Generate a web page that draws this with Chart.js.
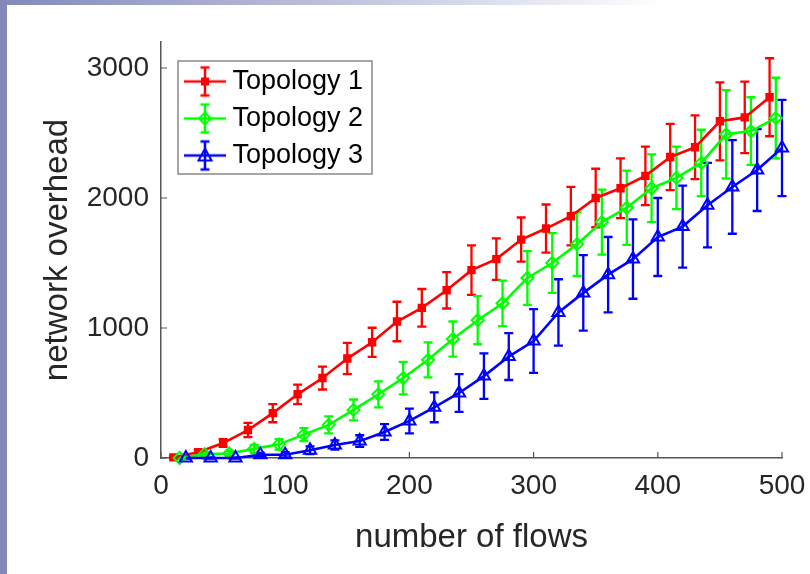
<!DOCTYPE html>
<html>
<head>
<meta charset="utf-8">
<title>network overhead vs number of flows</title>
<script src="https://cdn.jsdelivr.net/npm/chart.js@4.4.1/dist/chart.umd.min.js"></script>
<style>
  html, body { margin: 0; padding: 0; background: #fff; }
  #wrap { position: relative; width: 810px; height: 574px; overflow: hidden; }
  #chart { position: absolute; left: 0; top: 0; }
  /* slide decoration */
  #sideBar { position: absolute; left: 0; top: 0; width: 7px; height: 574px; background: #8289ba; }
  #topBar { position: absolute; left: 0; top: 0; width: 810px; height: 5px;
            background: linear-gradient(to right, #8289ba 0%, #c3c7df 45%, #ffffff 82%); }
</style>
</head>
<body>
<div id="wrap">
  <canvas id="chart" width="810" height="574"></canvas>
  <div id="sideBar"></div>
  <div id="topBar"></div>
</div>
<script>
/* ------------------------------
   Data
   ------------------------------ */
const seriesNames = ['Topology 1', 'Topology 2', 'Topology 3'];

const flowsT1 = [10, 30, 50, 70, 90, 110, 130, 150, 170, 190, 210, 230, 250, 270, 290, 310, 330, 350, 370, 390, 410, 430, 450, 470, 490];
const flowsT2 = [15, 35, 55, 75, 95, 115, 135, 155, 175, 195, 215, 235, 255, 275, 295, 315, 335, 355, 375, 395, 415, 435, 455, 475, 495];
const flowsT3 = [20, 40, 60, 80, 100, 120, 140, 160, 180, 200, 220, 240, 260, 280, 300, 320, 340, 360, 380, 400, 420, 440, 460, 480, 500];

const overheadT1 = [5, 45, 115, 215, 345, 490, 615, 765, 890, 1050, 1155, 1290, 1445, 1530, 1680, 1765, 1860, 2000, 2075, 2170, 2315, 2390, 2590, 2620, 2775];
const overheadT2 = [0, 30, 35, 70, 105, 180, 255, 370, 490, 615, 755, 915, 1060, 1190, 1385, 1500, 1645, 1815, 1925, 2075, 2155, 2270, 2490, 2515, 2615];
const overheadT3 = [0, 0, 0, 25, 25, 60, 100, 130, 200, 285, 390, 500, 630, 780, 900, 1120, 1270, 1410, 1530, 1700, 1780, 1945, 2085, 2215, 2385];

const errT1 = [10, 20, 30, 55, 70, 75, 88, 120, 112, 152, 145, 140, 190, 160, 170, 185, 225, 225, 230, 225, 255, 245, 300, 275, 300];
const errT2 = [10, 15, 20, 30, 40, 50, 65, 80, 100, 125, 135, 135, 185, 175, 207, 230, 245, 250, 285, 260, 240, 255, 340, 260, 310];
const errT3 = [5, 5, 5, 15, 20, 30, 35, 45, 60, 95, 115, 145, 175, 180, 245, 255, 290, 290, 305, 300, 315, 325, 360, 315, 370];

const xTicks = [0, 100, 200, 300, 400, 500];
const yTicks = [0, 1000, 2000, 3000];

const colors = ['#ff0000', '#00ff00', '#0000ff'];
const FONT = "'Liberation Sans', Arial, Helvetica, sans-serif";
const AXIS_COLOR = '#555555';

function toPoints(xs, ys) {
    return xs.map((x, i) => ({ x: x, y: ys[i] }));
}

// ------------------------------
// Legend icons (line + error bar + marker, MATLAB style)
// ------------------------------
function makeLegendIcon(color, marker) {
    const c = document.createElement('canvas');
    c.width = 56; c.height = 34;
    const g = c.getContext('2d');
    const cx = 34, cy = 17;
    g.strokeStyle = color;
    g.fillStyle = color;
    g.lineWidth = 2.5;
    g.beginPath();
    g.moveTo(13, cy); g.lineTo(55, cy);
    g.moveTo(cx, 3); g.lineTo(cx, 31);
    g.moveTo(cx - 4.5, 3); g.lineTo(cx + 4.5, 3);
    g.moveTo(cx - 4.5, 31); g.lineTo(cx + 4.5, 31);
    g.stroke();
    g.lineWidth = 2;
    g.beginPath();
    if (marker === 'rect') {
        g.fillRect(cx - 4, cy - 4, 8, 8);
    } else if (marker === 'diamond') {
        g.moveTo(cx, cy - 6); g.lineTo(cx + 6, cy); g.lineTo(cx, cy + 6); g.lineTo(cx - 6, cy); g.closePath();
        g.stroke();
    } else {
        g.moveTo(cx, cy - 7); g.lineTo(cx + 6.5, cy + 5); g.lineTo(cx - 6.5, cy + 5); g.closePath();
        g.stroke();
    }
    return c;
}
const legendIcons = [
    makeLegendIcon(colors[0], 'rect'),
    makeLegendIcon(colors[1], 'diamond'),
    makeLegendIcon(colors[2], 'triangle')
];

// ------------------------------
// Plugins
// ------------------------------
const errorBarPlugin = {
    id: 'errorBars',
    beforeDatasetsDraw(chart) {
        const ctx = chart.ctx;
        const yScale = chart.scales.y;
        chart.data.datasets.forEach((ds, i) => {
            const meta = chart.getDatasetMeta(i);
            if (!ds.errors || meta.hidden) return;
            ctx.save();
            ctx.strokeStyle = ds.borderColor;
            ctx.lineWidth = 2.3;
            ctx.beginPath();
            meta.data.forEach((pt, j) => {
                const v = ds.data[j].y, e = ds.errors[j];
                const top = yScale.getPixelForValue(v + e);
                const bot = yScale.getPixelForValue(v - e);
                ctx.moveTo(pt.x, top); ctx.lineTo(pt.x, bot);
                ctx.moveTo(pt.x - 4.5, top); ctx.lineTo(pt.x + 4.5, top);
                ctx.moveTo(pt.x - 4.5, bot); ctx.lineTo(pt.x + 4.5, bot);
            });
            ctx.stroke();
            ctx.restore();
        });
    }
};

// inward pointing tick marks
const innerTicksPlugin = {
    id: 'innerTicks',
    beforeDatasetsDraw(chart) {
        const { ctx, chartArea: a, scales: { x, y } } = chart;
        ctx.save();
        ctx.strokeStyle = AXIS_COLOR;
        ctx.lineWidth = 1.2;
        ctx.beginPath();
        x.ticks.forEach(t => {
            const px = x.getPixelForValue(t.value);
            ctx.moveTo(px, a.bottom); ctx.lineTo(px, a.bottom - 6);
        });
        y.ticks.forEach(t => {
            const py = y.getPixelForValue(t.value);
            ctx.moveTo(a.left, py); ctx.lineTo(a.left + 6, py);
        });
        ctx.stroke();
        ctx.restore();
    }
};

// legend placement + frame
const legendBoxPlugin = {
    id: 'legendBox',
    afterLayout(chart, args, opts) {
        const lg = chart.legend;
        if (!lg) return;
        lg.left = chart.chartArea.left + opts.shiftX;
        lg.top = chart.chartArea.top + opts.shiftY;
    },
    beforeDraw(chart, args, opts) {
        const { ctx, chartArea: a } = chart;
        ctx.save();
        ctx.fillStyle = '#ffffff';
        ctx.strokeStyle = '#8a8a8a';
        ctx.lineWidth = 1.5;
        ctx.fillRect(a.left + opts.boxX, a.top + opts.boxY, opts.boxW, opts.boxH);
        ctx.strokeRect(a.left + opts.boxX, a.top + opts.boxY, opts.boxW, opts.boxH);
        ctx.restore();
    }
};

// ------------------------------
// Chart
// ------------------------------
const markerStyles = ['rect', 'rectRot', 'triangle'];
const markerRadius = [4.5, 6, 7];
const xsList = [flowsT1, flowsT2, flowsT3];
const ysList = [overheadT1, overheadT2, overheadT3];
const errList = [errT1, errT2, errT3];

const datasets = seriesNames.map((name, i) => ({
    label: name,
    data: toPoints(xsList[i], ysList[i]),
    errors: errList[i],
    borderColor: colors[i],
    backgroundColor: i === 0 ? colors[i] : 'rgba(0,0,0,0)',
    borderWidth: 2.6,
    pointStyle: markerStyles[i],
    pointRadius: markerRadius[i],
    pointBorderWidth: 2,
    pointBorderColor: colors[i],
    pointBackgroundColor: i === 0 ? colors[i] : 'rgba(0,0,0,0)',
    tension: 0,
    fill: false,
    clip: false,
    order: 3 - i
}));

const chart = new Chart(document.getElementById('chart').getContext('2d'), {
    type: 'line',
    data: { datasets: datasets },
    plugins: [legendBoxPlugin, innerTicksPlugin, errorBarPlugin],
    options: {
        responsive: false,
        animation: false,
        layout: { padding: { left: 0, right: 28, top: 42, bottom: 0 } },
        plugins: {
            tooltip: { enabled: false },
            legend: {
                position: 'chartArea',
                align: 'start',
                labels: {
                    usePointStyle: true,
                    pointStyleWidth: 40,
                    padding: 10,
                    color: '#000000',
                    font: { family: FONT, size: 27 },
                    sort: (a, b) => a.datasetIndex - b.datasetIndex,
                    generateLabels(ch) {
                        const items = Chart.defaults.plugins.legend.labels.generateLabels(ch);
                        items.forEach(it => { it.pointStyle = legendIcons[it.datasetIndex]; });
                        return items;
                    }
                }
            },
            legendBox: { shiftX: 8, shiftY: 16, boxX: 17, boxY: 19, boxW: 194, boxH: 113 }
        },
        scales: {
            x: {
                type: 'linear',
                min: 0,
                max: 500,
                afterFit(scale) {
                    scale.height = 116;
                    scale.paddingLeft = 0;
                    scale.paddingRight = 0;
                },
                afterBuildTicks(scale) { scale.ticks = xTicks.map(v => ({ value: v })); },
                grid: { display: false, drawTicks: false },
                border: { display: true, color: AXIS_COLOR, width: 1.5 },
                ticks: {
                    autoSkip: false,
                    maxRotation: 0,
                    padding: 11,
                    color: '#262626',
                    font: { family: FONT, size: 28 },
                    callback: v => String(v)
                },
                title: {
                    display: true,
                    text: 'number of flows',
                    color: '#262626',
                    font: { family: FONT, size: 33 },
                    padding: { top: 0, bottom: 16 }
                }
            },
            y: {
                min: 0,
                max: 3200,
                afterFit(scale) {
                    scale.width = 161;
                    scale.paddingTop = 0;
                    scale.paddingBottom = 0;
                },
                afterBuildTicks(scale) { scale.ticks = yTicks.map(v => ({ value: v })); },
                grid: { display: false, drawTicks: false },
                border: { display: true, color: AXIS_COLOR, width: 1.5 },
                ticks: {
                    padding: 12,
                    color: '#262626',
                    font: { family: FONT, size: 28 },
                    callback: v => String(v)
                },
                title: {
                    display: true,
                    text: 'network overhead',
                    color: '#262626',
                    font: { family: FONT, size: 33 },
                    padding: { top: 38, bottom: 0 }
                }
            }
        }
    }
});
</script>
</body>
</html>
